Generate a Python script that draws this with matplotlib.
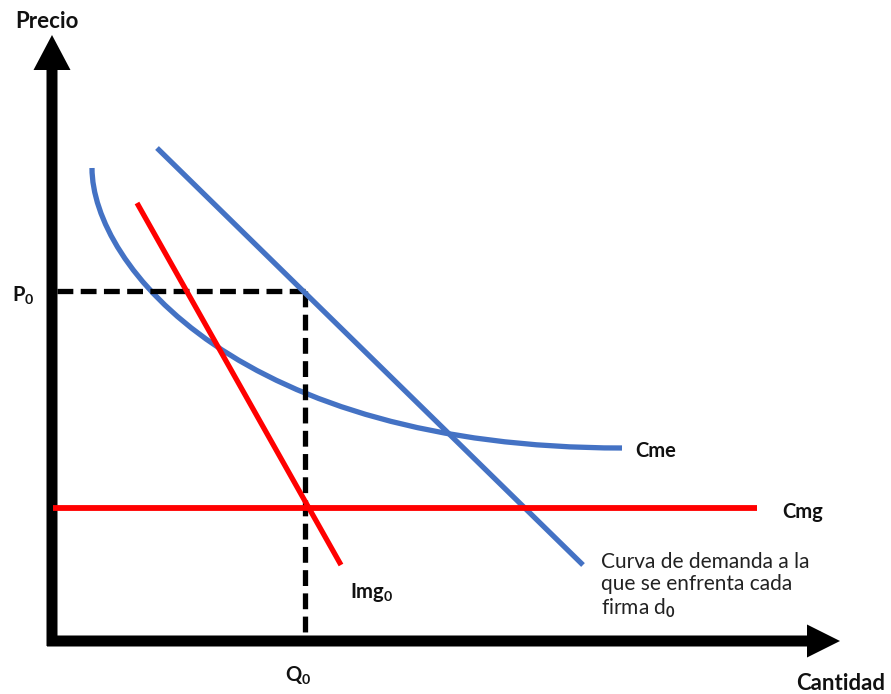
import matplotlib.pyplot as plt
from matplotlib.path import Path
from matplotlib.patches import PathPatch

plt.rcParams['mathtext.fontset'] = 'custom'
plt.rcParams['mathtext.rm'] = 'Lato:bold'
plt.rcParams['mathtext.bf'] = 'Lato:bold'

# everything is in picture pixels (x right, y down)
W, H = 891, 694

# demand curve d0 (straight line)
dem_x = [157, 583]
dem_y = [148, 565]

# marginal revenue Img0
img_x = [137, 341]
img_y = [203, 565]

# marginal cost Cmg (flat)
cmg_x = [53, 757]
cmg_y = [508, 508]

# average cost Cme: start, two bezier handles, end
cme_x = [92, 92, 240, 622]
cme_y = [168, 265, 448, 448]

# equilibrium
q0 = 305
p0 = 291

blue = '#4472C4'
red = '#FF0000'
fam = ['Lato', 'DejaVu Sans']

fig = plt.figure(figsize=(W / 100, H / 100), dpi=100)
ax = fig.add_axes([0, 0, 1, 1])
ax.set_xlim(0, W)
ax.set_ylim(H, 0)
ax.axis('off')

# axes arrows
ax.arrow(52, 646, 0, -611, width=11, head_width=37, head_length=35,
         length_includes_head=True, color='black', lw=0)
ax.arrow(47, 641, 793, 0, width=11, head_width=33, head_length=33,
         length_includes_head=True, color='black', lw=0)

# dashed guides
dash = (0, (3.0, 1.4))
ax.plot([57, q0], [p0, p0], color='black', lw=3.8, ls=dash)
ax.plot([q0, q0], [p0, 636], color='black', lw=3.8, ls=dash)

cme_path = Path(list(zip(cme_x, cme_y)), [Path.MOVETO, Path.CURVE4, Path.CURVE4, Path.CURVE4])
ax.add_patch(PathPatch(cme_path, fill=False, edgecolor=blue, lw=3.8, capstyle='butt'))
ax.plot(dem_x, dem_y, color=blue, lw=3.8, solid_capstyle='butt')
ax.plot(img_x, img_y, color=red, lw=3.8, solid_capstyle='butt')
ax.plot(cmg_x, cmg_y, color=red, lw=4.2, solid_capstyle='butt')

bold = dict(family=fam, fontweight='bold', fontsize=14.5, ha='center', va='center', color='#111111')
ax.text(47, 21, 'Precio', **dict(bold, fontsize=16))
ax.text(841, 683, 'Cantidad', **dict(bold, fontsize=16))
ax.text(23, 296, 'P$_0$', **bold)
ax.text(298, 676, 'Q$_0$', **bold)
ax.text(372, 592, 'Img$_0$', **bold)
ax.text(656, 451, 'Cme', **bold)
ax.text(803, 512, 'Cmg', **bold)
ax.text(601, 586, 'Curva de demanda a la\nque se enfrenta cada\nfirma d$_0$',
        family=fam, fontsize=15, ha='left', va='center', linespacing=1.1, color='#222222')

fig.savefig('out.png', dpi=100)
